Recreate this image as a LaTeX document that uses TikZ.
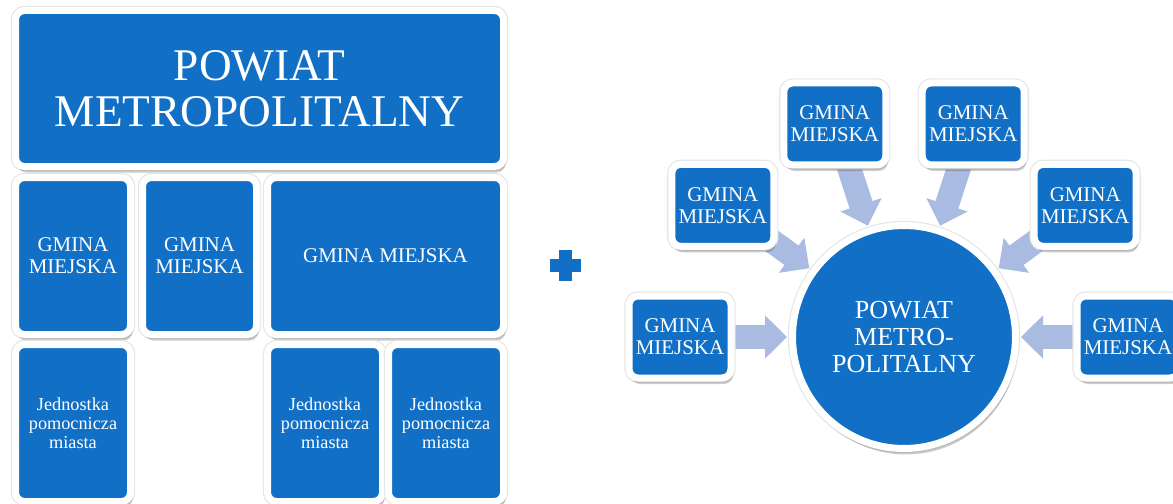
\documentclass[tikz,border=0pt]{standalone}
\usepackage{fontspec}
\setmainfont{Liberation Serif}
\usetikzlibrary{positioning,shadows,arrows.meta,backgrounds,calc}

\definecolor{gminablue}{RGB}{17,112,198}
\definecolor{arrowblue}{RGB}{169,187,224}

\begin{document}
\begin{tikzpicture}
  [
    x=0.75pt, y=0.75pt,
    halo/.style={preaction={draw=black!10, line width=7pt},
      drop shadow={shadow xshift=1.5pt, shadow yshift=-4.5pt, fill=black, opacity=0.2}},
    tile/.style={halo, draw=white, line width=5.25pt, fill=gminablue, rounded corners=6.75pt,
      text=white, align=center, inner sep=0pt},
    big font/.style={font=\fontsize{34}{34.5}\selectfont},
    gmina font/.style={font=\fontsize{15.7}{16.5}\selectfont},
    small font/.style={font=\fontsize{13.7}{14.25}\selectfont},
    row tile/.style={tile, minimum width=86.25pt, minimum height=117.75pt},
    radial tile/.style={tile, gmina font, minimum width=76.5pt, minimum height=61.5pt},
    hub/.style={circle, halo, draw=white, line width=5.25pt, fill=gminablue, text=white,
      align=center, inner sep=0pt, minimum size=167.25pt,
      font=\fontsize{19.5}{20.25}\selectfont},
    feed arrow/.style={draw=arrowblue, line width=18pt,
      -{Triangle[width=31.5pt,length=16.5pt]}, shorten <=30pt, shorten >=87.75pt},
  ]

  \useasboundingbox (0,0) rectangle (1173,-503);

  % left: powiat with its gminy
  \node[tile, big font, minimum width=366pt, minimum height=117pt] (powiat) at (259.5,-88.5) {POWIAT\\METROPOLITALNY};

  \node[row tile, gmina font] (gm1) at (73,-256) {GMINA\\MIEJSKA};
  \node[row tile, gmina font, minimum width=85.5pt] (gm2) at (199.5,-256) {GMINA\\MIEJSKA};
  \node[row tile, gmina font, minimum width=177pt] (gm3) at (385.5,-256) {GMINA MIEJSKA};

  \node[row tile, small font] (jp1) at (73,-423) {Jednostka\\pomocnicza\\miasta};
  \node[row tile, small font] (jp2) at (325,-423) {Jednostka\\pomocnicza\\miasta};
  \node[row tile, small font] (jp3) at (446,-423) {Jednostka\\pomocnicza\\miasta};

  % plus
  \fill[gminablue] (550,-259) rectangle (581,-272);
  \fill[gminablue] (559,-250) rectangle (572,-281);

  % right: radial
  \node[hub] (hub) at (904,-337) {POWIAT\\METRO-\\POLITALNY};

  \foreach \a [count=\i] in {180,144,108,72,36,0}
    {
     \node[radial tile] (rg\i) at ($(hub)+(\a:224)$) {GMINA\\MIEJSKA};
    }

  \begin{scope}[on background layer]
    \foreach \i in {1,...,6}
      \draw[feed arrow] (rg\i.center) -- (hub.center);
  \end{scope}

\end{tikzpicture}
\end{document}
